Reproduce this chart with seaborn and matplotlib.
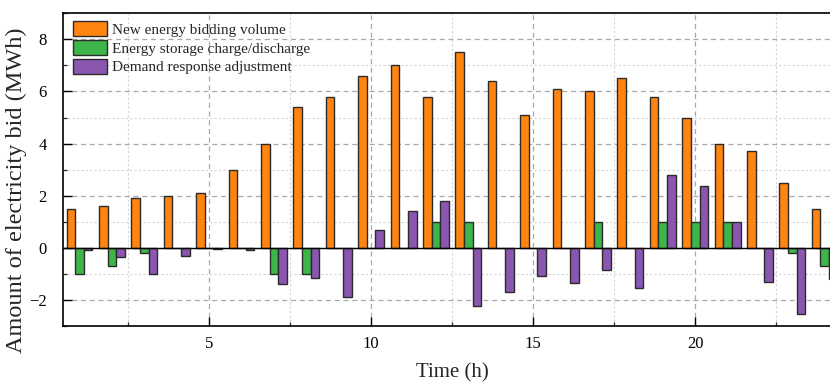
import matplotlib
matplotlib.use("Agg")
import matplotlib.pyplot as plt
from matplotlib.ticker import MultipleLocator
import numpy as np
import pandas as pd
import seaborn as sns

# Hourly bids (MWh)
hours = list(range(1, 25))
new_energy = [1.5, 1.6, 1.9, 2.0, 2.1, 3.0, 4.0, 5.4, 5.8, 6.6, 7.0, 5.8,
              7.5, 6.4, 5.1, 6.1, 6.0, 6.5, 5.8, 5.0, 4.0, 3.7, 2.5, 1.5]
storage = [-1.0, -0.7, -0.2, 0.0, 0.0, 0.0, -1.0, -1.0, 0.0, 0.0, 0.0, 1.0,
           1.0, 0.0, 0.0, 0.0, 1.0, 0.0, 1.0, 1.0, 1.0, 0.0, -0.2, -0.7]
demand = [-0.1, -0.35, -1.0, -0.33, -0.03, -0.1, -1.4, -1.15, -1.9, 0.7, 1.4, 1.8,
          -2.25, -1.7, -1.1, -1.35, -0.85, -1.55, 2.8, 2.37, 1.0, -1.3, -2.55, -1.2]
series_names = ["New energy bidding volume",
                "Energy storage charge/discharge",
                "Demand response adjustment"]
colors = ["#FF8410", "#3DB54A", "#8A56B0"]

df = pd.DataFrame({
    "hour": hours * 3,
    "value": new_energy + storage + demand,
    "series": np.repeat(series_names, len(hours)),
})

sns.set_theme(style="white")
plt.rcParams["font.family"] = ["Liberation Serif", "DejaVu Serif"]
plt.rcParams["mathtext.fontset"] = "stix"

fig = plt.figure(figsize=(8.30, 3.87), dpi=100)
ax = fig.add_axes([63.3 / 830, 61 / 387, (841 - 63.3) / 830, (326 - 13.3) / 387])

sns.barplot(data=df, x="hour", y="value", hue="series", hue_order=series_names,
            palette=colors, native_scale=True, width=0.8, errorbar=None,
            edgecolor="#2b2b2b", linewidth=1.0, saturation=1, ax=ax, zorder=3)

ax.axhline(0, color="black", lw=1.0, zorder=4)

ax.set_xlim(0.5, 24.5)
ax.set_ylim(-3, 9)
ax.xaxis.set_major_locator(MultipleLocator(5))
ax.xaxis.set_minor_locator(MultipleLocator(2.5))
ax.yaxis.set_major_locator(MultipleLocator(2))
ax.yaxis.set_minor_locator(MultipleLocator(1))

ax.grid(which="major", color="#a8a8a8", ls=(0, (4, 3)), lw=0.9, zorder=0)
ax.grid(which="minor", color="#d4d4d4", ls=(0, (2, 2)), lw=0.8, zorder=0)
ax.set_axisbelow(True)

ax.tick_params(axis="both", which="major", direction="in", length=6.5, width=1.0,
               labelsize=12, colors="black")
ax.tick_params(axis="both", which="minor", direction="in", length=3, width=0.9)
ax.tick_params(axis="y", which="major", pad=12)
ax.tick_params(axis="x", which="major", pad=7.5)
ax.tick_params(left=True, bottom=True, which="both")

for s in ax.spines.values():
    s.set_color("black")
    s.set_linewidth(1.2)

ax.set_xlabel("Time (h)", fontsize=15, labelpad=8)
ax.set_ylabel("Amount of electricity bid (MWh)", fontsize=17.5)
ax.yaxis.set_label_coords(-0.047, 0.435)

handles, labels = ax.get_legend_handles_labels()
ax.legend(handles, labels, loc="upper left", bbox_to_anchor=(0.0125, 0.975),
          frameon=False, fontsize=11, handlelength=2.2, handleheight=1.15,
          labelspacing=0.2, handletextpad=0.35, borderpad=0, borderaxespad=0)

fig.savefig("out.png", dpi=100)
